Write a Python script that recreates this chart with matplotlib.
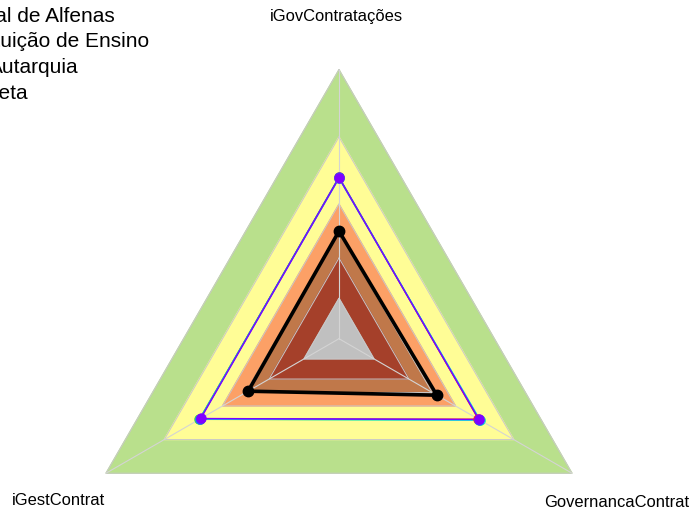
"""Radar chart of the contracting governance indices (three axes, banded background)."""
import matplotlib
matplotlib.use("Agg")
import matplotlib.pyplot as plt
import numpy as np

plt.rcParams["font.family"] = ["Liberation Sans", "DejaVu Sans"]

axes_names = ["iGovContratações", "iGestContrat", "GovernancaContrat"]
angles_deg = [90, 210, 330]

# background bands (outer limit of each band) and their colours
band_levels = [1.0, 0.75, 0.5, 0.4, 0.3, 0.15]
band_colors = ["#B9E08C", "#FFFD96", "#FCA066", "#C0784A", "#A5402A", "#C0C0C0"]

# series: values in axis order (top, left, right)
alfenas = [0.40, 0.39, 0.42]
inst_ensino = [0.600, 0.597, 0.598]
autarquia = [0.598, 0.600, 0.604]
grupo_c = [0.596, 0.598, 0.607]
grupo_b = [0.601, 0.596, 0.602]
meta = [0.597, 0.593, 0.600]

series = [
    (inst_ensino, "#FF2020"),
    (autarquia, "#30E030"),
    (grupo_c, "#20E8E8"),
    (grupo_b, "#3050FF"),
    (meta, "#8000FF"),
]
legend_labels = ["Universidade Federal de Alfenas", "Instituição de Ensino", "Autarquia", "Meta"]

W, H = 691, 511
cx, cy, R = 339, 338.7, 269.0
theta = np.deg2rad(angles_deg)


def xy(vals):
    v = np.asarray(vals, float)
    x = v * np.cos(theta)
    y = v * np.sin(theta)
    return np.append(x, x[0]), np.append(y, y[0])


fig = plt.figure(figsize=(W / 100, H / 100), dpi=100)
ax = fig.add_axes([0, 0, 1, 1])
ax.set_xlim(-cx / R, (W - cx) / R)
ax.set_ylim((cy - H) / R, cy / R)
ax.axis("off")

for lev, col in zip(band_levels, band_colors):
    x, y = xy([lev] * 3)
    ax.fill(x, y, color=col, zorder=1)
    ax.plot(x, y, color="#C8C8C8", lw=0.7, zorder=2)

for t in theta:
    ax.plot([0, np.cos(t)], [0, np.sin(t)], color="#D4D4D4", lw=0.8, zorder=2)

for vals, col in series:
    x, y = xy(vals)
    ax.plot(x, y, color=col, lw=0.9, zorder=3)
    ax.plot(x[:-1], y[:-1], "o", color=col, ms=7.5, mec="none", zorder=4)

x, y = xy(alfenas)
ax.plot(x, y, color="black", lw=2.6, zorder=5)
ax.plot(x[:-1], y[:-1], "o", color="black", ms=7.5, zorder=6)

# axis labels
label_pos = [(336, 20.5), (58.5, 505), (617, 506.5)]
for name, (px, py) in zip(axes_names, label_pos):
    fig.text(px / W, 1 - py / H, name, ha="center", va="baseline", fontsize=11.9)

# legend (clipped on the left edge, as in the original)
legend_right = [115, 149.5, 79, 27.5]
legend_base = [21.5, 47.3, 73, 98.7]
for lab, rx, by in zip(legend_labels, legend_right, legend_base):
    fig.text(rx / W, 1 - by / H, lab, ha="right", va="baseline", fontsize=15)

fig.savefig("out.png", dpi=100)
